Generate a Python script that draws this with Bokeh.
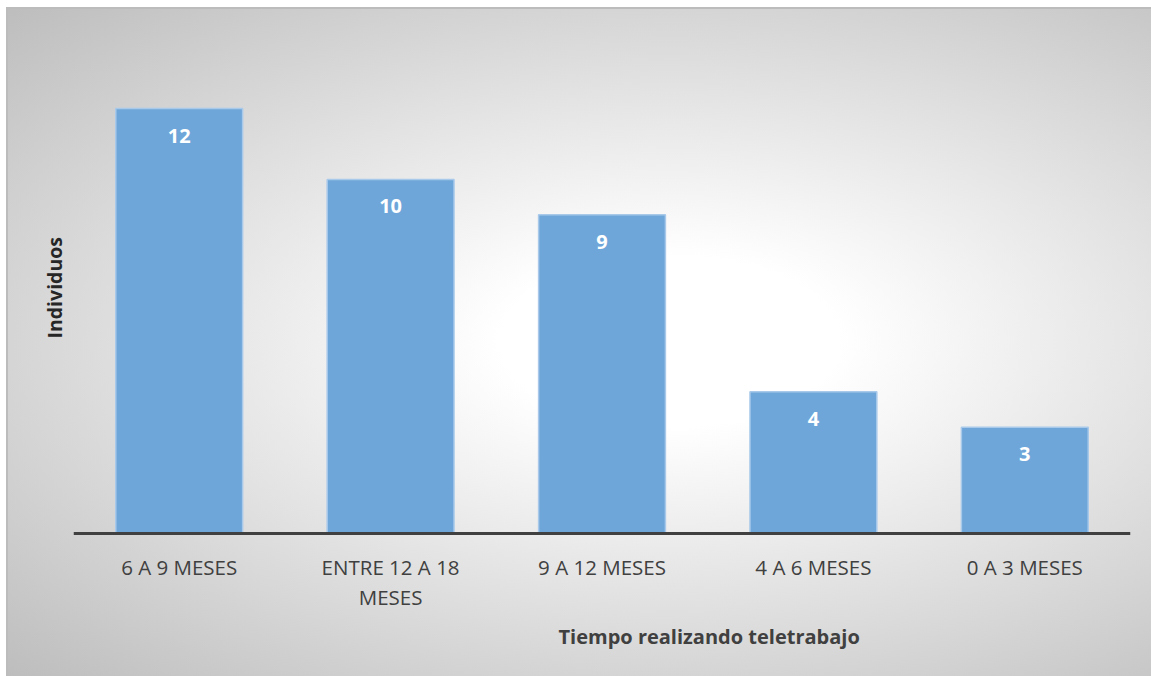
from bokeh.plotting import figure
from bokeh.models import Title, Range1d, FactorRange, Span
from bokeh.core.properties import value
from bokeh.embed import file_html
from bokeh.resources import INLINE

categories = ["6 A 9 MESES", "ENTRE 12 A 18 MESES", "9 A 12 MESES", "4 A 6 MESES", "0 A 3 MESES"]
tick_labels = ["6 A 9 MESES", "ENTRE 12 A 18\nMESES", "9 A 12 MESES", "4 A 6 MESES", "0 A 3 MESES"]
values = [12, 10, 9, 4, 3]
value_labels = [str(v) for v in values]

FONT = "Open Sans"

# frame layout (pixels)
W, H = 1145, 669
LEFT, RIGHT, TOP, BOTTOM = 67, 21, 48, 56
AXIS_Y = 526            # pixel row of the zero line
Y_TOP = 13.5
px_per_unit = (AXIS_Y - TOP) / Y_TOP
y_start = -(H - BOTTOM - AXIS_Y) / px_per_unit

p = figure(
    width=W, height=H,
    x_range=FactorRange(*categories),
    y_range=Range1d(y_start, Y_TOP),
    output_backend="svg", toolbar_location=None,
    min_border_left=LEFT, min_border_right=RIGHT, min_border_top=TOP, min_border_bottom=BOTTOM,
)
p.border_fill_color = None
p.background_fill_color = None
p.outline_line_color = None
p.styles = {
    "margin": "7px 0 0 6px",
    "background-image": "radial-gradient(ellipse at 58% 50%, #ffffff 0%, #ffffff 18%, #bdbdbd 100%)",
    "box-shadow": "inset 2px 2px 0 #bcbcbc",
}
p.xaxis.visible = False
p.yaxis.visible = False
p.xgrid.visible = False
p.ygrid.visible = False

p.vbar(x=categories, top=values, width=0.6, fill_color="#6fa6d9",
       line_color="#a8c9ea", line_width=1.5)

p.add_layout(Span(location=0, dimension="width", line_color="#404040", line_width=3))

p.text(x=categories, y=values, text=value_labels, y_offset=27,
       text_align="center", text_baseline="middle",
       text_font=value(FONT), text_font_style="bold",
       text_font_size="20px", text_color="white")

p.text(x=categories, y=[0] * len(categories), text=tick_labels, y_offset=19,
       text_align="center", text_baseline="top",
       text_font=value(FONT), text_font_size="20.5px",
       text_color="#404040", text_line_height=1.08)

p.add_layout(Title(text="Individuos", align="left", offset=282,
                   text_font=FONT, text_font_style="bold", text_font_size="19.5px",
                   text_color="#262626", standoff=11), "left")

p.add_layout(Title(text="Tiempo realizando teletrabajo", align="left", offset=485,
                   text_font=FONT, text_font_style="bold", text_font_size="20px",
                   text_color="#404040", standoff=0), "below")

open("out.html", "w").write(file_html(p, INLINE))
